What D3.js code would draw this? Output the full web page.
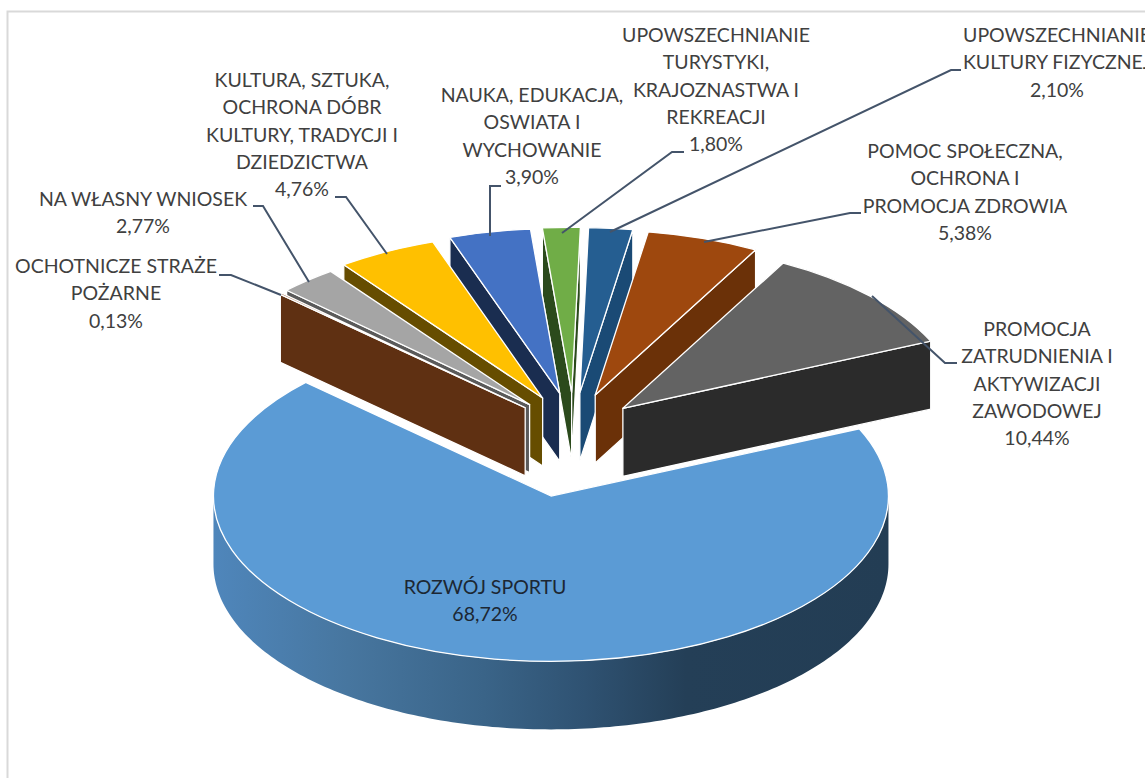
<!DOCTYPE html>
<html>
<head>
<meta charset="utf-8">
<style>
    body { margin: 0; background: #fff; }
    svg { display: block; }
    .label { font-family: Lato, "Open Sans", sans-serif; font-size: 19.5px; fill: #404040; text-anchor: middle; }
    .big-label { fill: #1c2733; }
    .leader { fill: none; stroke: #44546a; stroke-width: 2; }
    .top, .wall { stroke: #fff; stroke-width: 1.3; stroke-linejoin: round; vector-effect: non-scaling-stroke; }
</style>
</head>
<body>
<svg width="1145" height="778"></svg>
<script src="https://d3js.org/d3.v7.min.js"></script>
<script>

    // clockwise from the big slice
    var categories = ["ROZWÓJ SPORTU", "OCHOTNICZE STRAŻE POŻARNE", "NA WŁASNY WNIOSEK",
        "KULTURA, SZTUKA, OCHRONA DÓBR KULTURY, TRADYCJI I DZIEDZICTWA",
        "NAUKA, EDUKACJA, OSWIATA I WYCHOWANIE",
        "UPOWSZECHNIANIE TURYSTYKI, KRAJOZNASTWA I REKREACJI",
        "UPOWSZECHNIANIE KULTURY FIZYCZNEJ",
        "POMOC SPOŁECZNA, OCHRONA I PROMOCJA ZDROWIA",
        "PROMOCJA ZATRUDNIENIA I AKTYWIZACJI ZAWODOWEJ"];
    var values = [68.72, 0.13, 2.77, 4.76, 3.90, 1.80, 2.10, 5.38, 10.44];
    var labelLines = [
        ["ROZWÓJ SPORTU"],
        ["OCHOTNICZE STRAŻE", "POŻARNE"],
        ["NA WŁASNY WNIOSEK"],
        ["KULTURA, SZTUKA,", "OCHRONA DÓBR", "KULTURY, TRADYCJI I", "DZIEDZICTWA"],
        ["NAUKA, EDUKACJA,", "OSWIATA I", "WYCHOWANIE"],
        ["UPOWSZECHNIANIE", "TURYSTYKI,", "KRAJOZNASTWA I", "REKREACJI"],
        ["UPOWSZECHNIANIE", "KULTURY FIZYCZNEJ"],
        ["POMOC SPOŁECZNA,", "OCHRONA I", "PROMOCJA ZDROWIA"],
        ["PROMOCJA", "ZATRUDNIENIA I", "AKTYWIZACJI", "ZAWODOWEJ"]
    ];
    var topColors = ["#5b9bd5", "#843c0c", "#a5a5a5", "#ffc000", "#4472c4", "#70ad47", "#255e91", "#9e480e", "#636363"];
    var wallColors = ["#2f5578", "#5f3012", "#5a5a5a", "#664d00", "#1a2d50", "#2b4a1c", "#1a4a75", "#6b3108", "#2b2b2b"];

    // layout
    var labelPos = [[485, 587], [116, 266], [143, 199], [302, 80], [532, 95], [716, 35], [1057, 35], [965, 151], [1037, 329]];
    var leaders = [
        null,
        [[219, 275], [231, 275], [281, 295]],
        [[253, 206], [263, 206], [309, 282]],
        [[335, 197], [346, 197], [387, 254]],
        [[501, 186], [490, 186], [490, 236]],
        [[684, 152], [672, 152], [562, 233]],
        [[961, 70], [951, 70], [610, 232]],
        [[861, 213], [850, 213], [704, 242]],
        [[872, 296], [945, 363], [957, 363]]
    ];
    var drawOrder = [0, 5, 4, 3, 2, 1, 6, 7, 8];

    var centerX = 573.7, centerY = 442,
        explodeX = 67, explodeY = 49.6,
        bigExplodeX = 135, bigExplodeY = 54.8,
        radius = 337, bigRadius = 337.5,
        tilt = 0.49, depth = 68, lineHeight = 27.4;

    var svg = d3.select("svg");
    var start = 66 * Math.PI / 180;

    svg.append("rect")
        .attr("x", 7.5).attr("y", 11.5)
        .attr("width", 1300).attr("height", 1000)
        .attr("fill", "#fff")
        .attr("stroke", "#d9d9d9")
        .attr("stroke-width", 2);

    var grad = svg.append("defs").append("linearGradient")
        .attr("id", "rim")
        .attr("x1", "0%").attr("x2", "100%").attr("y1", "0%").attr("y2", "0%");
    [[0, "#4f86bb"], [0.2, "#47769f"], [0.4, "#3a6488"], [0.55, "#2f5272"], [0.7, "#243f57"], [1, "#233d54"]].forEach(function (s) {
        grad.append("stop").attr("offset", s[0]).attr("stop-color", s[1]);
    });

    var pie = d3.pie().sort(null).startAngle(start).endAngle(start + 2 * Math.PI);
    var slices = pie(values);

    var arc = d3.arc().innerRadius(0);

    function tipOf(d, i) {
        var mid = (d.startAngle + d.endAngle) / 2;
        var ex = i === 0 ? bigExplodeX : explodeX,
            ey = i === 0 ? bigExplodeY : explodeY;
        return [centerX + ex * Math.sin(mid), centerY - ey * Math.cos(mid)];
    }

    function rOf(i) {
        return i === 0 ? bigRadius : radius;
    }

    var line = d3.line();

    // side wall of a straight cut
    function wallPath(tip, a, r) {
        var x = tip[0] + r * Math.sin(a),
            y = tip[1] - r * tilt * Math.cos(a);
        return line([tip, [x, y], [x, y + depth], [tip[0], tip[1] + depth]]) + "Z";
    }

    // front rim of the big slice
    var bigTip = tipOf(slices[0], 0);
    var rimAngles = d3.range(90, 270.5, 1).map(function (a) { return a * Math.PI / 180; });
    var rimTop = rimAngles.map(function (a) {
        return [bigTip[0] + bigRadius * Math.sin(a), bigTip[1] - bigRadius * tilt * Math.cos(a)];
    });
    var rimBottom = rimTop.map(function (p) { return [p[0], p[1] + depth]; }).reverse();
    svg.append("path")
        .attr("d", line(rimTop.concat(rimBottom)) + "Z")
        .attr("fill", "url(#rim)");

    drawOrder.forEach(function (i) {
        var d = slices[i], tip = tipOf(d, i), r = rOf(i);

        // big slice cuts are hidden under its own top
        if (i !== 0) {
            if (Math.sin(d.startAngle) < 0) {
                svg.append("path").attr("class", "wall")
                    .attr("d", wallPath(tip, d.startAngle, r))
                    .attr("fill", wallColors[i]);
            }
            if (Math.sin(d.endAngle) > 0) {
                svg.append("path").attr("class", "wall")
                    .attr("d", wallPath(tip, d.endAngle, r))
                    .attr("fill", wallColors[i]);
            }
        }

        svg.append("path").attr("class", "top")
            .attr("transform", "translate(" + tip[0] + "," + tip[1] + ") scale(1," + tilt + ")")
            .attr("d", arc({ outerRadius: r, startAngle: d.startAngle, endAngle: d.endAngle }))
            .attr("fill", topColors[i]);
    });

    leaders.forEach(function (pts) {
        if (pts) svg.append("path").attr("class", "leader").attr("d", line(pts));
    });

    categories.forEach(function (name, i) {
        var lines = labelLines[i].concat([values[i].toFixed(2).replace(".", ",") + "%"]);
        var text = svg.append("text")
            .attr("class", i === 0 ? "label big-label" : "label");
        text.append("title").text(name);
        lines.forEach(function (s, k) {
            text.append("tspan")
                .attr("x", labelPos[i][0])
                .attr("y", labelPos[i][1] + k * lineHeight)
                .attr("dy", "0.35em")
                .text(s);
        });
    });

</script>
</body>
</html>
